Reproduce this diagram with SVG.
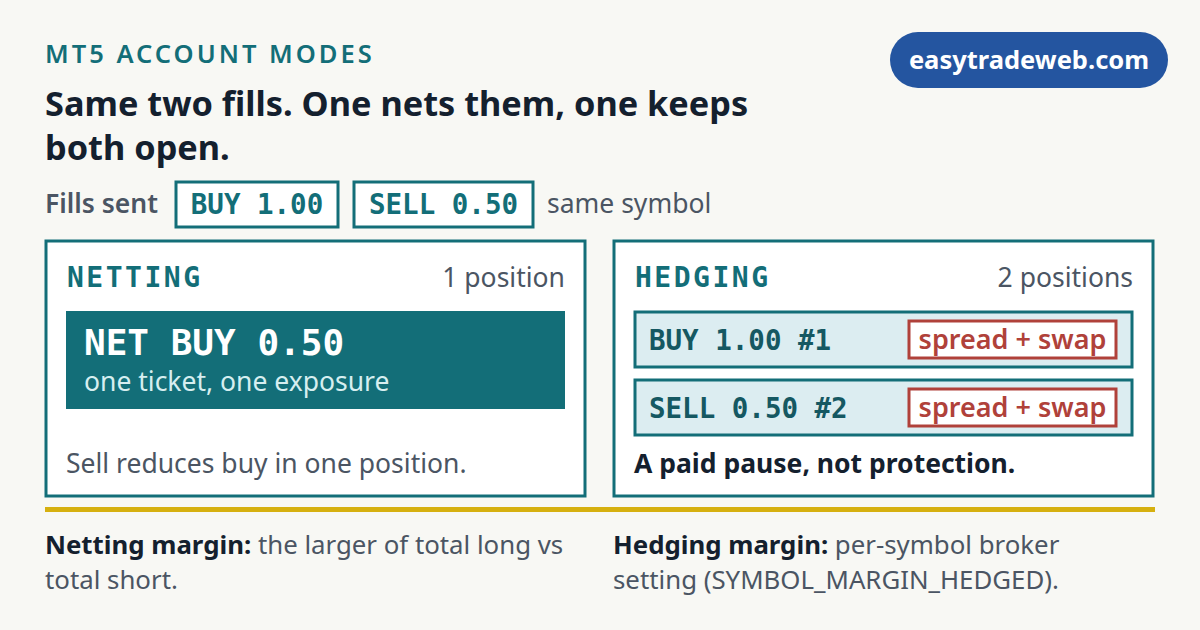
<svg xmlns="http://www.w3.org/2000/svg" width="1200" height="630" viewBox="0 0 1200 630">
<style>
.sans{font-family:"Noto Sans","Liberation Sans",sans-serif}
.mono{font-family:"DejaVu Sans Mono","Liberation Mono",monospace}
.gray{fill:#4b5563}
.dark{fill:#14202e}
.teal{fill:#136e78}
.body{font-size:26.5px}
.foot{font-size:25.8px}
.panel{fill:#ffffff;stroke:#136e78;stroke-width:3}
.chip{fill:#ffffff;stroke:#136e78;stroke-width:3}
.row{fill:#dcedf1;stroke:#136e78;stroke-width:3}
.cost{fill:#ffffff;stroke:#b0413a;stroke-width:3}
.costt{fill:#b0413a;font-weight:600;font-size:27px}
.ttl{font-size:28px;font-weight:700;letter-spacing:2.5px}
.mid{font-weight:600}
</style>
<rect width="1200" height="630" fill="#f8f8f4"/>
<g id="header">
<text x="45" y="63" class="sans teal" font-size="25.5" font-weight="600" letter-spacing="3">MT5 ACCOUNT MODES</text>
<text x="45" y="116" class="sans dark" font-size="34.3" font-weight="700">Same two fills. One nets them, one keeps</text>
<text x="45" y="160" class="sans dark" font-size="34.3" font-weight="700">both open.</text>
</g>
<g id="brand">
<rect x="890" y="32" width="278" height="56" rx="28" fill="#2455a0"/>
<text x="1029" y="69" class="sans" font-size="25.5" font-weight="700" fill="#ffffff" text-anchor="middle">easytradeweb.com</text>
</g>
<g id="fills">
<text x="45" y="213" class="sans gray" font-size="26.5" font-weight="600">Fills sent</text>
<rect x="176" y="182" width="162" height="45" class="chip"/>
<text x="257" y="214" class="mono teal mid" font-size="27.5" text-anchor="middle">BUY 1.00</text>
<rect x="354" y="182" width="179" height="45" class="chip"/>
<text x="443.5" y="214" class="mono teal mid" font-size="27.5" text-anchor="middle">SELL 0.50</text>
<text x="547" y="213" class="sans gray body">same symbol</text>
</g>
<g id="netting">
<rect x="46" y="241" width="539" height="255" class="panel"/>
<text x="67" y="287" class="mono teal ttl">NETTING</text>
<text x="565" y="287" class="sans gray body" text-anchor="end">1 position</text>
<rect x="66" y="311" width="499" height="98" fill="#136e78"/>
<text x="84" y="355" class="mono mid" font-size="36" fill="#ffffff">NET BUY 0.50</text>
<text x="84" y="391" class="sans body" fill="#d6eef0">one ticket, one exposure</text>
<text x="66" y="473" class="sans gray body">Sell reduces buy in one position.</text>
</g>
<g id="hedging">
<rect x="614" y="241" width="539" height="255" class="panel"/>
<text x="635" y="287" class="mono teal ttl">HEDGING</text>
<text x="1133" y="287" class="sans gray body" text-anchor="end">2 positions</text>
<g id="pos1">
<rect x="635" y="312" width="497" height="55" class="row"/>
<text x="649" y="350" class="mono mid" font-size="27.5" fill="#155862">BUY 1.00 #1</text>
<rect x="909" y="321" width="207" height="37" class="cost"/>
<text x="1012.5" y="349" class="sans costt" text-anchor="middle">spread + swap</text>
</g>
<g id="pos2">
<rect x="635" y="380" width="497" height="55" class="row"/>
<text x="649" y="418" class="mono mid" font-size="27.5" fill="#155862">SELL 0.50 #2</text>
<rect x="909" y="389" width="207" height="37" class="cost"/>
<text x="1012.5" y="417" class="sans costt" text-anchor="middle">spread + swap</text>
</g>
<text x="634" y="473" class="sans dark body" font-weight="700">A paid pause, not protection.</text>
</g>
<g id="connectors">
<line x1="45" y1="509.5" x2="1155" y2="509.5" stroke="#d6b00f" stroke-width="5"/>
</g>
<g id="footer">
<text x="45" y="554" class="sans gray foot"><tspan class="dark" font-weight="700">Netting margin:</tspan> the larger of total long vs</text>
<text x="45" y="589" class="sans gray foot">total short.</text>
<text x="613" y="554" class="sans gray foot"><tspan class="dark" font-weight="700">Hedging margin:</tspan> per-symbol broker</text>
<text x="613" y="589" class="sans gray foot">setting (SYMBOL_MARGIN_HEDGED).</text>
</g>
</svg>
